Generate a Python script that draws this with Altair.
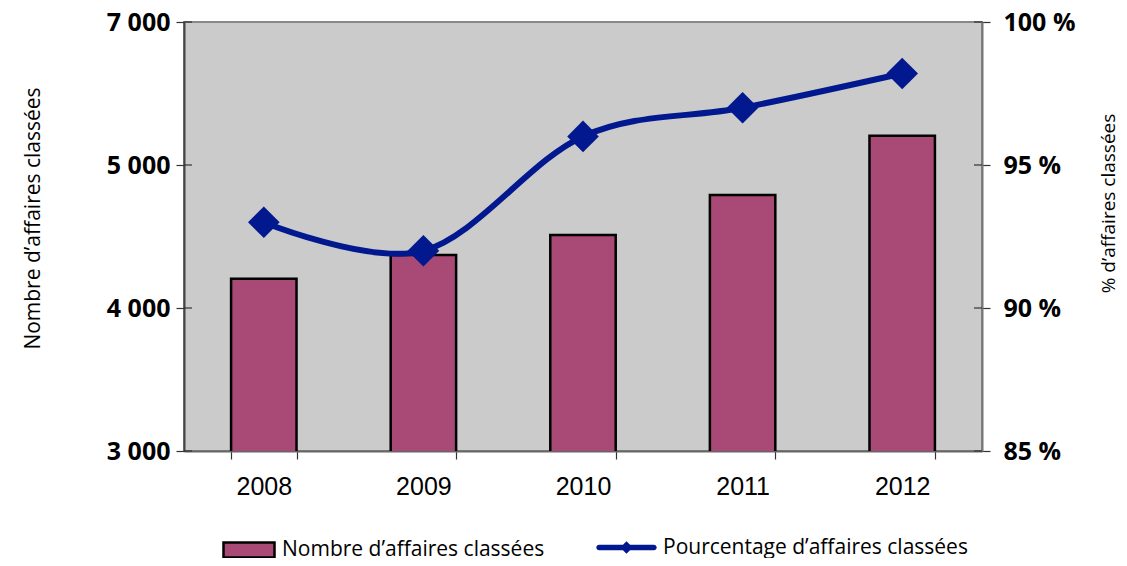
import altair as alt
import pandas as pd

years = ["2008", "2009", "2010", "2011", "2012"]
nombre = [4205, 4370, 4510, 4790, 5205]
pourcentage = [93.0, 92.0, 96.0, 97.0, 98.2]

left_tick_values = [3000, 4000, 5000, 6000]
left_tick_labels = ["3 000", "4 000", "5 000", "7 000"]
right_tick_values = [85, 90, 95, 100]

bar_name = "Nombre d\u2019affaires classées"
line_name = "Pourcentage d\u2019affaires classées"
left_title = "Nombre d\u2019affaires classées"
right_title = "% d\u2019affaires classées"

BAR = "#a84a75"
BLUE = "#02188f"
FONT = "Open Sans"
TICK = "#333333"

df = pd.DataFrame({
    "year": years,
    "nombre": nombre,
    "pct": pourcentage,
    "s_bar": [bar_name] * len(years),
    "s_line": [line_name] * len(years),
})
df_lt = pd.DataFrame({"v": left_tick_values})
df_rt = pd.DataFrame({"v": right_tick_values})

left_expr = " : ".join(
    f"datum.value == {v} ? '{l}'" for v, l in zip(left_tick_values, left_tick_labels)
) + " : ''"

left_scale = alt.Scale(domain=[3000, 6000], nice=False, zero=False)
right_scale = alt.Scale(domain=[85, 100], nice=False, zero=False)

x_enc = alt.X(
    "year:N",
    title=None,
    scale=alt.Scale(paddingInner=0.59, paddingOuter=0.295),
    axis=alt.Axis(
        labelFont="Liberation Sans", labelFontSize=25, labelColor="black",
        labelPadding=15, labelAngle=0,
        tickBand="extent", tickSize=8, tickColor=TICK, tickWidth=1.2,
        domainColor="#666", domainWidth=2,
    ),
)

bars = alt.Chart(df).mark_bar(stroke="black", strokeWidth=2.5, clip=True).encode(
    x=x_enc,
    y=alt.Y(
        "nombre:Q",
        scale=left_scale,
        axis=alt.Axis(
            values=left_tick_values, labelExpr=left_expr,
            title=left_title, titleFont=FONT, titleFontSize=21, titleFontWeight="normal",
            titleColor="black", titleAngle=-90, titleX=-151, titleY=196,
            titleBaseline="middle", titleAlign="center",
            labelFont=FONT, labelFontSize=25, labelFontWeight="bold", labelColor="black",
            labelPadding=6, tickSize=8, tickColor=TICK, tickWidth=1.2,
            domainColor="#444", domainWidth=2, grid=False,
        ),
    ),
    fill=alt.Fill(
        "s_bar:N",
        scale=alt.Scale(domain=[bar_name], range=[BAR]),
        legend=alt.Legend(
            orient="none", legendX=38, legendY=501, title=None,
            symbolType="M-1,-0.29H1V0.29H-1Z", symbolSize=2601,
            symbolStrokeColor="black", symbolStrokeWidth=2.5,
            labelFont=FONT, labelFontSize=21, labelColor="black", labelOffset=6,
            labelLimit=400, padding=0,
        ),
    ),
)

y_right = alt.Y(
    "pct:Q",
    scale=right_scale,
    axis=alt.Axis(
        orient="right", values=right_tick_values, labelExpr="datum.value + ' %'",
        title=right_title, titleFont=FONT, titleFontSize=19, titleFontWeight="normal",
        titleColor="black", titleAngle=-90, titleX=126, titleY=181,
        titleBaseline="middle", titleAlign="center",
        labelFont=FONT, labelFontSize=25, labelFontWeight="bold", labelColor="black",
        labelPadding=13, tickSize=8, tickColor=TICK, tickWidth=1.2,
        domainColor="#777", domainWidth=2, grid=False,
    ),
)

line = alt.Chart(df).mark_line(
    color=BLUE, strokeWidth=6, interpolate="cardinal"
).encode(x=x_enc, y=y_right)

points = alt.Chart(df).mark_point(
    shape="diamond", size=1000, filled=True, opacity=1, strokeWidth=0
).encode(
    x=x_enc,
    y=y_right,
    fill=alt.Fill(
        "s_line:N",
        scale=alt.Scale(domain=[line_name], range=[BLUE]),
        legend=alt.Legend(
            orient="none", legendX=414, legendY=497, title=None,
            symbolType="M-0.96,-0.1H0.96A0.1,0.1 0 0 1 0.96,0.1H-0.96A0.1,0.1 0 0 1 -0.96,-0.1Z M0,-0.22L0.22,0L0,0.22L-0.22,0Z",
            symbolSize=3249, symbolStrokeWidth=0,
            labelFont=FONT, labelFontSize=21, labelColor="black", labelOffset=8,
            labelLimit=400, padding=0,
        ),
    ),
)

# inner halves of the y-axis ticks (the reference's ticks cross the axis line)
left_inner = alt.Chart(df_lt).mark_rule(color=TICK, strokeWidth=1.2).encode(
    y=alt.Y("v:Q", scale=left_scale, axis=None),
    x=alt.value(0), x2=alt.value(8),
)
right_inner = alt.Chart(df_rt).mark_rule(color=TICK, strokeWidth=1.2).encode(
    y=alt.Y("v:Q", scale=right_scale, axis=None),
    x=alt.value(790), x2=alt.value(798),
)

right_layer = alt.layer(line, points)

chart = alt.layer(bars, right_layer, left_inner, right_inner).resolve_scale(
    y="independent", fill="independent"
).resolve_legend(fill="independent").properties(
    width=798, height=429,
    autosize=alt.AutoSizeParams(type="none"),
    padding={"left": 176, "top": 14, "right": 137, "bottom": 107},
).configure_view(
    fill="#cbcbcb", stroke="#888", strokeWidth=2
)

chart.save("out.html", embed_options={"renderer": "svg", "actions": False})
